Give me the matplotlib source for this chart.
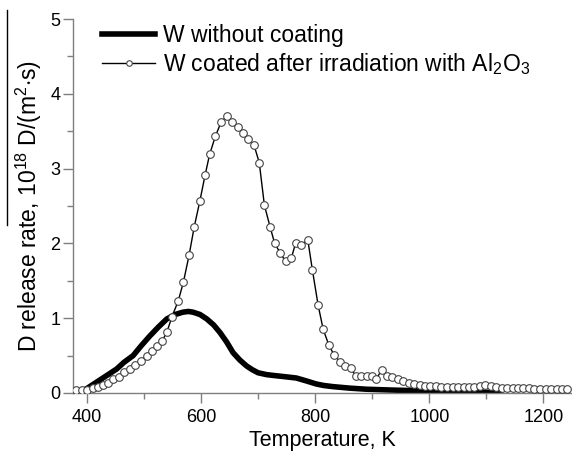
import matplotlib
matplotlib.use("Agg")
from matplotlib import pyplot as plt
from matplotlib.lines import Line2D
from matplotlib.ticker import MultipleLocator

plt.rcParams['font.family'] = ['Liberation Sans', 'DejaVu Sans']
plt.rcParams['mathtext.fontset'] = 'custom'
plt.rcParams['mathtext.rm'] = 'Liberation Sans'

# W without coating (thick line)
t_bare = [393, 400, 410, 420, 430, 440, 452, 465, 481, 495, 510, 525, 540, 555,
          568, 578, 586, 598, 610, 622, 633, 645, 656, 668, 680, 690, 700, 715,
          732, 750, 767, 785, 802, 815, 831, 860, 890, 930, 977, 1030, 1094, 1130]
d_bare = [0.03, 0.06, 0.11, 0.16, 0.21, 0.26, 0.32, 0.41, 0.50, 0.63, 0.76, 0.88,
          0.99, 1.05, 1.08, 1.09, 1.08, 1.05, 0.99, 0.91, 0.81, 0.68, 0.54, 0.44,
          0.36, 0.31, 0.27, 0.245, 0.23, 0.215, 0.20, 0.16, 0.12, 0.10, 0.085,
          0.065, 0.05, 0.04, 0.03, 0.02, 0.01, 0.005]

# W coated after irradiation with Al2O3 (open circles)
t_coat = [381, 391, 401, 410, 420, 429, 437, 446, 456, 465, 475, 484, 494, 505,
          514, 523, 532, 540, 549, 560, 569, 579, 588, 598, 607, 615, 625, 635,
          645, 655, 664, 674, 683, 693, 702, 711, 721, 729, 739, 748, 758, 766,
          776, 787, 795, 805, 814, 824, 833, 843, 852, 862, 871, 880, 890, 899,
          907, 917, 926, 935, 945, 954, 964, 973, 983, 993, 1002, 1012, 1021,
          1031, 1041, 1050, 1060, 1069, 1079, 1088, 1098, 1108, 1117, 1127, 1136,
          1146, 1156, 1165, 1175, 1184, 1194, 1204, 1213, 1223, 1232, 1242]
d_coat = [0.04, 0.04, 0.04, 0.06, 0.08, 0.10, 0.14, 0.19, 0.22, 0.28, 0.32, 0.37,
          0.43, 0.50, 0.56, 0.63, 0.70, 0.81, 1.02, 1.23, 1.48, 1.84, 2.22, 2.57,
          2.91, 3.19, 3.43, 3.62, 3.70, 3.62, 3.56, 3.48, 3.39, 3.31, 3.08, 2.51,
          2.22, 2.00, 1.87, 1.76, 1.80, 2.01, 1.98, 2.05, 1.65, 1.18, 0.85, 0.64,
          0.51, 0.42, 0.36, 0.33, 0.23, 0.23, 0.23, 0.23, 0.19, 0.31, 0.23, 0.21,
          0.19, 0.16, 0.14, 0.12, 0.10, 0.09, 0.09, 0.09, 0.08, 0.08, 0.08, 0.08,
          0.08, 0.08, 0.08, 0.09, 0.11, 0.09, 0.08, 0.07, 0.07, 0.06, 0.06, 0.06,
          0.06, 0.05, 0.05, 0.05, 0.05, 0.05, 0.05, 0.05]

labels = ["W without coating", "W coated after irradiation with Al$_2$O$_3$"]
x_ticks = [400, 600, 800, 1000, 1200]
y_ticks = [0, 1, 2, 3, 4, 5]

fig = plt.figure(figsize=(5.72, 4.53), dpi=100)
ax = fig.add_axes([0.127, 0.1325, 0.873, 0.8255])

ax.plot(t_bare, d_bare, color='k', lw=4.0, solid_capstyle='butt', zorder=2)
ax.plot(t_coat, d_coat, color='k', lw=1.0, marker='o', markersize=5.5,
        markerfacecolor='white', markeredgecolor='#444444', markeredgewidth=0.8,
        zorder=3)

ax.set_xlim(375, 1250)
ax.set_ylim(0, 5)
ax.set_xticks(x_ticks)
ax.set_yticks(y_ticks)
ax.xaxis.set_minor_locator(MultipleLocator(100))
ax.yaxis.set_minor_locator(MultipleLocator(0.5))

gray = '#7f7f7f'
for s in ['top', 'right']:
    ax.spines[s].set_visible(False)
for s in ['left', 'bottom']:
    ax.spines[s].set_color(gray)
    ax.spines[s].set_linewidth(1.0)
ax.tick_params(which='both', direction='out', color=gray, labelsize=13, width=1.0)
ax.tick_params(which='major', length=7.5)
ax.tick_params(axis='y', which='major', pad=1.5)
ax.tick_params(axis='x', which='major', pad=4)
ax.tick_params(which='minor', length=4)

ax.set_xlabel("Temperature, K", fontsize=15.5, labelpad=3)
ax.set_ylabel("D release rate, 10$^{18}$ D/(m$^2$$\\cdot$s)", fontsize=16.5, labelpad=4)

handles = [Line2D([], [], color='k', lw=4.0),
           Line2D([], [], color='k', lw=1.0, marker='o', markersize=4,
                  markerfacecolor='white', markeredgecolor='#444444', markeredgewidth=0.8)]
fig.legend(handles, labels, loc='upper left', bbox_to_anchor=(0.163, 0.968),
           frameon=False, fontsize=16.5, handlelength=2.3, handletextpad=0.35,
           labelspacing=0.2, borderaxespad=0)

# stray bar next to the y label in the original figure
fig.add_artist(Line2D([0.013, 0.013], [1 - 10 / 453, 1 - 225 / 453], color='k', lw=1.0))

fig.savefig("out.png", dpi=100)
